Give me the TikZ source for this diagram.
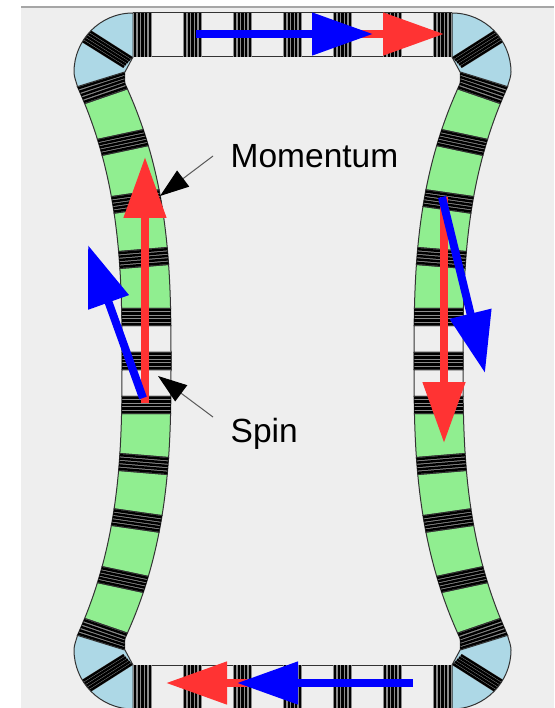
\documentclass[tikz,border=0pt]{standalone}
\usepackage{fontspec}
\setmainfont{Liberation Sans}
\usepackage{xcolor}
\usetikzlibrary{arrows.meta, positioning}
\definecolor{panelgray}{RGB}{238,238,238}
\definecolor{cellgreen}{RGB}{144,238,144}
\definecolor{cellblue}{RGB}{173,216,230}
\definecolor{spinblue}{RGB}{0,0,255}
\definecolor{momred}{RGB}{255,51,51}
\newcommand{\cornerpath}{(133,57) -- (133,13) .. controls (100,13) and (74,40) .. (74,72)
  .. controls (74,77) and (76,81) .. (77.5,86.6) -- (125,71.9) -- cycle}
% #1,#2 outer and inner y of the upper edge, #3,#4 of the lower edge, #5 fill
\newcommand{\sidecell}[5]{%
  \path[edge, fill=#5] plot[domain=#1:#3, samples=8] ({outerx(\x)},\x)
    -- plot[domain=#4:#2, samples=8] ({innerx(\x)},\x) -- cycle;}

\begin{document}
\begin{tikzpicture}[
  x=1pt, y=-1pt,
  declare function={
    outerx(\y)=122-38*(abs(\y-361)/259)^2.8;
    innerx(\y)=171-38*(min(abs(\y-361),278)/259)^2.8;
  },
  edge/.style    = {draw=black!80, line width=1pt},
  stripe/.style  = {black, line width=2.4pt},
  stripebg/.style = {fill=black!45},
  spin/.style    = {-{Triangle[length=61pt,width=41pt]}, line width=8pt, spinblue},
  mom/.style     = {-{Triangle[length=61pt,width=41pt]}, line width=8pt, momred},
  callout/.style = {-{Triangle[length=29pt,width=20pt,color=black]}, line width=1pt, black!65},
  lbl/.style     = {anchor=base west, inner sep=0pt, font=\fontsize{33.5}{36}\selectfont},
]
  \useasboundingbox (0,0) rectangle (554,708);
  \fill[white] (0,0) rectangle (554,708);
  \fill[panelgray] (21,7) rectangle (554,708);
  \draw[black!35, line width=1.5pt] (21,7) -- (554,7);

  % one quarter of the ring, mirrored four times
  \foreach \ox/\oy/\sx/\sy in {0/0/1/1, 585/0/-1/1, 0/722/1/-1, 585/722/-1/-1} {
    \begin{scope}[shift={(\ox,\oy)}, xscale=\sx, yscale=\sy]
      % curved side
      \sidecell{103.6}{88.9}{139.4}{129.6}{cellgreen}
      \sidecell{155.4}{145.6}{196.6}{189.8}{cellgreen}
      \sidecell{213.2}{206.4}{251.5}{247.5}{cellgreen}
      \sidecell{268.5}{264.5}{308.3}{308.3}{cellgreen}
      \sidecell{325.7}{325.7}{352.3}{352.3}{none}
      \foreach \yoa/\yia/\yob/\yib in {86.6/71.9/103.6/88.9, 139.4/129.6/155.4/145.6,
                                       196.6/189.8/213.2/206.4, 251.5/247.5/268.5/264.5,
                                       308.3/308.3/325.7/325.7, 352.3/352.3/369.7/369.7} {
        \sidecell{\yoa}{\yia}{\yob}{\yib}{black!45}
        \foreach \t in {0.1,0.3,0.5,0.7,0.9} {
          \pgfmathsetmacro{\yo}{\yoa+\t*(\yob-\yoa)}
          \pgfmathsetmacro{\yi}{\yia+\t*(\yib-\yia)}
          \draw[stripe] ({outerx(\yo)},\yo) -- ({innerx(\yi)},\yi);
        }
      }
      % corner
      \fill[cellblue] \cornerpath;
      \begin{scope}
        \clip \cornerpath;
        \fill[stripebg] (133,57) -- (86,27) -- (75,38) -- (123,68) -- cycle;
        \foreach \t in {0.1,0.3,0.5,0.7,0.9}
          \draw[stripe] ({133-10*\t},{57+11*\t}) -- ({86-11*\t},{27+11*\t});
      \end{scope}
      \draw[edge] \cornerpath;
    \end{scope}
  }

  % straight sides
  \foreach \oy/\sy in {0/1, 722/-1} {
    \begin{scope}[shift={(0,\oy)}, yscale=\sy]
      \draw[edge] (133,13) -- (452,13);
      \draw[edge] (133,57) -- (452,57);
      \foreach \x in {133,183,...,433} {
        \fill[stripebg] (\x,13) rectangle (\x+19,57);
        \foreach \k in {2,5.75,9.5,13.25,17}
          \draw[stripe] (\x+\k,13) -- (\x+\k,57);
      }
    \end{scope}
  }

  \coordinate (topmomstart) at (300,34);
  \coordinate (topmomtip)   at (444,34);
  \coordinate (topspinstart) at (196,34);
  \coordinate (topspintip)  at (373,34);
  \coordinate (botmomstart) at (300,683);
  \coordinate (botmomtip)   at (166,683);
  \coordinate (botspinstart) at (413,683);
  \coordinate (botspintip)  at (237,683);
  \coordinate (leftmomstart) at (145,403);
  \coordinate (leftmomtip)  at (145,157);
  \coordinate (leftspinstart) at (143,398);
  \coordinate (leftspintip) at (88,245);
  \coordinate (rightmomstart) at (444,197);
  \coordinate (rightmomtip) at (444,443);
  \coordinate (rightspinstart) at (442,197);
  \coordinate (rightspintip) at (485,373);

  \foreach \s in {top,bot,left,right} {
    \draw[mom]  (\s momstart) -- (\s momtip);
    \draw[spin] (\s spinstart) -- (\s spintip);
  }

  \node[lbl] (momentum) at (230.5,167.5) {Momentum};
  \node[lbl] (spinlabel) at (230.5,442) {Spin};
  \coordinate (momentumtail) at (213,156);
  \coordinate (momentumtip)  at (160,196);
  \coordinate (spintail) at (213,417);
  \coordinate (spintip)  at (158,376);
  \draw[callout] (momentumtail) -- (momentumtip);
  \draw[callout] (spintail) -- (spintip);
\end{tikzpicture}
\end{document}
